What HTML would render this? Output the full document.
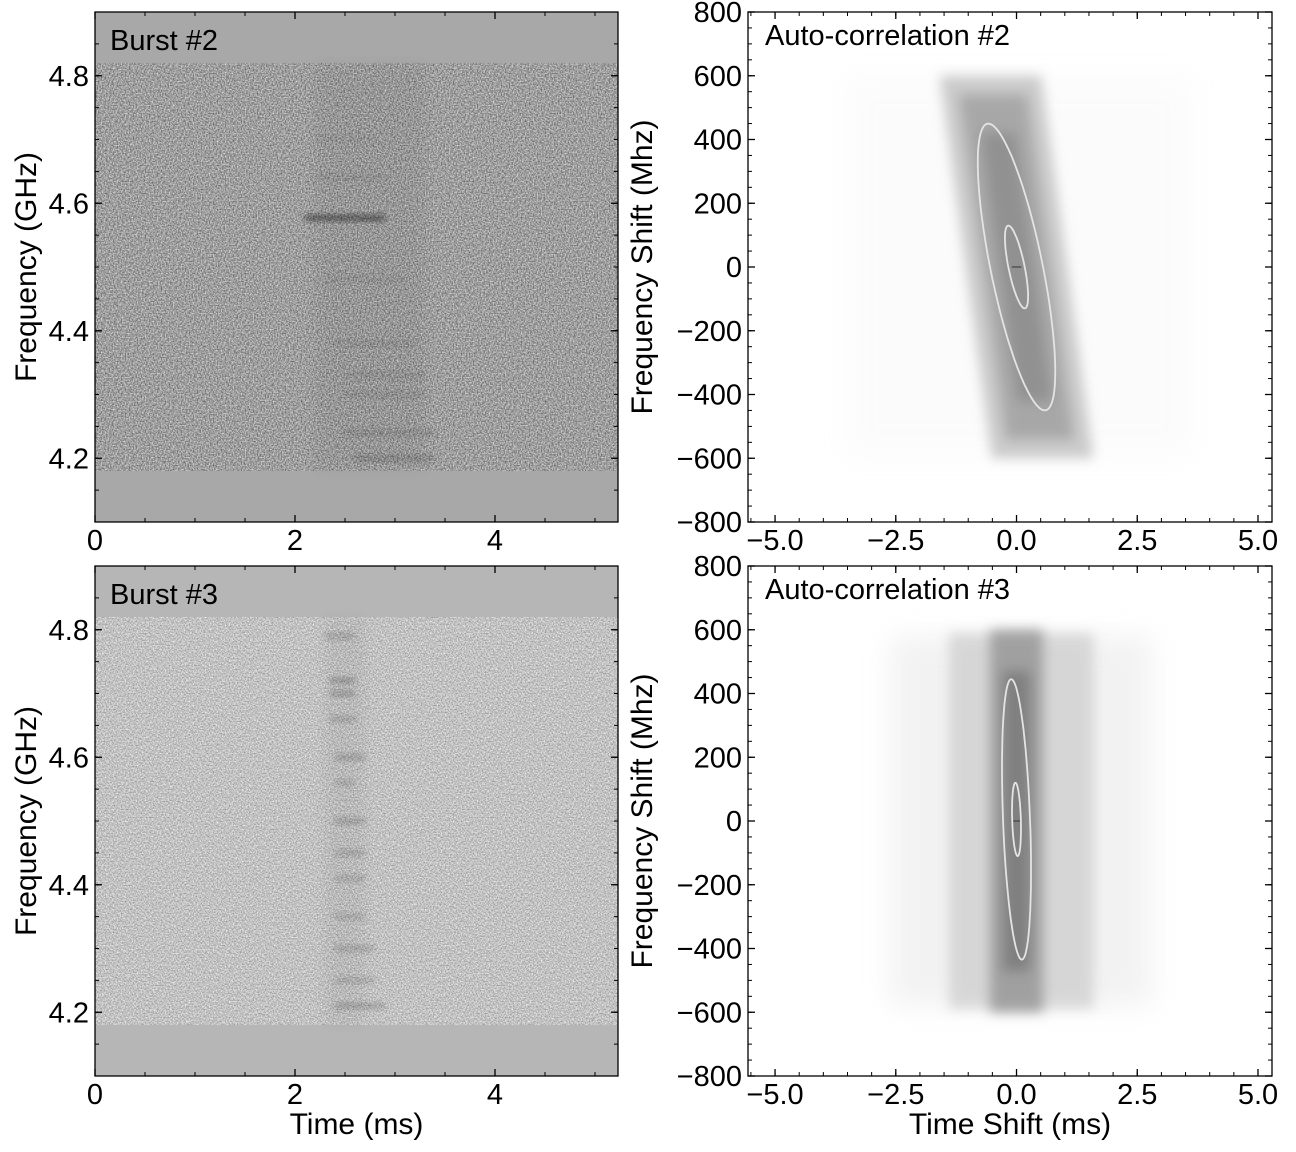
<!DOCTYPE html>
<html><head><meta charset="utf-8">
<style>
html,body{margin:0;padding:0;background:#fff;}
svg{display:block;font-family:"Liberation Sans","DejaVu Sans",sans-serif;}
</style></head>
<body>
<svg id="fig" width="1296" height="1152" viewBox="0 0 1296 1152" xmlns="http://www.w3.org/2000/svg">
<defs>
 <filter id="noiseA" x="0" y="0" width="100%" height="100%" color-interpolation-filters="sRGB">
  <feTurbulence type="fractalNoise" baseFrequency="0.75" numOctaves="1" seed="3"/>
  <feColorMatrix type="matrix" values="0.9 0 0 0 0.17  0.9 0 0 0 0.17  0.9 0 0 0 0.17  0 0 0 0 1"/>
 </filter>
 <filter id="noiseB" x="0" y="0" width="100%" height="100%" color-interpolation-filters="sRGB">
  <feTurbulence type="fractalNoise" baseFrequency="0.75" numOctaves="1" seed="7"/>
  <feColorMatrix type="matrix" values="0.7 0 0 0 0.41  0.7 0 0 0 0.41  0.7 0 0 0 0.41  0 0 0 0 1"/>
 </filter>
 <filter id="blur6" x="-50%" y="-50%" width="200%" height="200%"><feGaussianBlur stdDeviation="6"/></filter>
 <filter id="blur3" x="-50%" y="-50%" width="200%" height="200%"><feGaussianBlur stdDeviation="3"/></filter>
 <filter id="blur12" x="-50%" y="-50%" width="200%" height="200%"><feGaussianBlur stdDeviation="14"/></filter>
</defs>
<g id="root"></g>
</svg>
<script>
// ---- data ----
const freqTicks = [4.2, 4.4, 4.6, 4.8];
const timeTicks = [0, 2, 4];
const shiftTicks = [-800, -600, -400, -200, 0, 200, 400, 600, 800];
const lagTicks = [-5.0, -2.5, 0.0, 2.5, 5.0];
const panelTitles = ["Burst #2", "Burst #3", "Auto-correlation #2", "Auto-correlation #3"];
// burst streaks: [time start, time end, freq, darkness]
const burst2Streaks = [[2.1,2.9,4.577,0.9],[2.2,2.9,4.64,0.12],[2.3,3.1,4.48,0.12],[2.4,3.2,4.38,0.15],[2.5,3.3,4.33,0.15],[2.5,3.3,4.30,0.15],[2.5,3.4,4.24,0.2],[2.6,3.4,4.20,0.3],[2.2,2.8,4.70,0.08]];
const burst2Band = [2.2, 3.3];
const burst3Streaks = [[2.3,2.6,4.79,0.3],[2.35,2.6,4.72,0.45],[2.35,2.6,4.70,0.4],[2.35,2.6,4.66,0.3],[2.4,2.7,4.60,0.35],[2.4,2.6,4.56,0.25],[2.4,2.7,4.50,0.35],[2.4,2.7,4.45,0.3],[2.4,2.7,4.41,0.25],[2.4,2.7,4.35,0.25],[2.4,2.8,4.30,0.3],[2.4,2.8,4.25,0.25],[2.4,2.9,4.21,0.35]];
const burst3Band = [2.3, 2.7];
// autocorr ellipses: [cx ms, cy MHz, half-width ms, half-height MHz, shear ms per MHz]
const acf2Ellipses = [[0,0,0.55,450,-0.0013],[0,0,0.17,130,-0.0013]];
const acf3Ellipses = [[0,5,0.28,440,-0.00025],[0,5,0.09,115,-0.0002]];
// cloud layers: [x center ms, half width ms, y half MHz, shear, grey, opacity]
const acf2Cloud = [[0.05,3.6,600,0,"#ccc",0.07],[0.0,1.05,600,-0.0009,"#aaa",0.6],[0.0,0.7,540,-0.0009,"#8c8c8c",0.55],[0.0,0.35,420,-0.0009,"#777",0.45]];
const acf3Cloud = [[0.1,2.7,580,0,"#ccc",0.25],[0.1,1.5,590,0,"#bbb",0.5],[0.0,0.55,600,0,"#8a8a8a",0.7],[0.0,0.28,470,0,"#666",0.55]];

const NS="http://www.w3.org/2000/svg";
const root=document.getElementById('root');
function mk(tag,attrs,parent){const e=document.createElementNS(NS,tag);for(const k in attrs)e.setAttribute(k,attrs[k]);(parent||root).appendChild(e);return e;}

function axes(p){
  const sx=v=>p.x0+(v-p.xmin)/(p.xmax-p.xmin)*(p.x1-p.x0);
  const sy=v=>p.y1-(v-p.ymin)/(p.ymax-p.ymin)*(p.y1-p.y0);
  return {sx,sy};
}
function frame(p,xt,yt,xminor,yminor,xfmt,yfmt,name,xlab,ylab){
  const {sx,sy}=axes(p);
  const g=mk('g',{});
  
  
  mk('rect',{x:p.x0,y:p.y0,width:p.x1-p.x0,height:p.y1-p.y0,fill:'none',stroke:'#000','stroke-width':1.3},g);
  xt.forEach(v=>{const x=sx(v);
    mk('line',{x1:x,x2:x,y1:p.y1,y2:p.y1-7,stroke:'#000','stroke-width':1.3},g);
    mk('line',{x1:x,x2:x,y1:p.y0,y2:p.y0+7,stroke:'#000','stroke-width':1.3},g);
    const t=mk('text',{x:x,y:p.y1+28,'font-size':29,'text-anchor':'middle'},g);t.textContent=xfmt(v);
    
    
  });
  for(let v=Math.ceil(p.xmin/xminor)*xminor;v<=p.xmax;v+=xminor){const x=sx(v);
    mk('line',{x1:x,x2:x,y1:p.y1,y2:p.y1-4,stroke:'#000'},g);mk('line',{x1:x,x2:x,y1:p.y0,y2:p.y0+4,stroke:'#000'},g);}
  yt.forEach(v=>{const y=sy(v);
    mk('line',{x1:p.x0,x2:p.x0+7,y1:y,y2:y,stroke:'#000','stroke-width':1.3},g);
    mk('line',{x1:p.x1,x2:p.x1-7,y1:y,y2:y,stroke:'#000','stroke-width':1.3},g);
    const t=mk('text',{x:p.x0-6,y:y+10,'font-size':29,'text-anchor':'end'},g);t.textContent=yfmt(v);
    
    
  });
  for(let v=Math.ceil(p.ymin/yminor)*yminor;v<=p.ymax+1e-9;v+=yminor){const y=sy(v);
    mk('line',{x1:p.x0,x2:p.x0+4,y1:y,y2:y,stroke:'#000'},g);mk('line',{x1:p.x1,x2:p.x1-4,y1:y,y2:y,stroke:'#000'},g);}
  if(xlab){const t=mk('text',{x:(p.x0+p.x1)/2,y:p.y1+58,'font-size':30,'text-anchor':'middle'},g);t.textContent=xlab;
    }
  if(ylab){const t=mk('text',{x:0,y:0,'font-size':30,'text-anchor':'middle',transform:`translate(${p.ylx},${(p.y0+p.y1)/2}) rotate(-90)`},g);t.textContent=ylab;
    }
}
const m=v=>v<0?'\u2212'+String(v).replace('-',''):String(v);

function burst(p,filt,bandCol,streaks,bandRange,title,idx){
  const {sx,sy}=axes(p);
  const g=mk('g',{});
  
  
  mk('rect',{x:p.x0,y:p.y0,width:p.x1-p.x0,height:p.y1-p.y0,fill:bandCol},g);
  mk('rect',{x:p.x0,y:sy(4.82),width:p.x1-p.x0,height:sy(4.18)-sy(4.82),filter:`url(#${filt})`},g);
  const b=mk('rect',{x:sx(bandRange[0]),y:sy(4.82),width:sx(bandRange[1])-sx(bandRange[0]),height:sy(4.18)-sy(4.82),fill:'#000',opacity:0.04,filter:'url(#blur6)'},g);
  
  streaks.forEach(s=>{const r=mk('rect',{x:sx(s[0]),y:sy(s[2])-3,width:sx(s[1])-sx(s[0]),height:6,fill:'#000',opacity:s[3]*0.5,filter:'url(#blur3)'},g);
    });
  const t=mk('text',{x:p.x0+15,y:p.y0+38,'font-size':29},g);t.textContent=title;
  
}
function acf(p,cloud,ells,title,idx){
  const {sx,sy}=axes(p);
  const g=mk('g',{});
  
  
  cloud.forEach((c,i)=>{
    const [cx,hw,hy,sh,col,op]=c;
    const pts=[[cx-hw+sh*hy,hy],[cx+hw+sh*hy,hy],[cx+hw-sh*hy,-hy],[cx-hw-sh*hy,-hy]].map(q=>sx(q[0])+','+sy(q[1])).join(' ');
    const pg=mk('polygon',{points:pts,fill:col,opacity:op,filter:i===0?'url(#blur12)':'url(#blur6)'},g);
    
  });
  mk('line',{x1:sx(-0.1),x2:sx(0.1),y1:sy(0),y2:sy(0),stroke:'#444','stroke-width':2,opacity:0.6},g);
  ells.forEach(e=>{
    const [cx,cy,a,b,sh]=e;let d='';
    for(let k=0;k<=72;k++){const th=k/72*2*Math.PI;const yy=cy+b*Math.sin(th);const xx=cx+a*Math.cos(th)+sh*(yy-cy);d+=(k?'L':'M')+sx(xx).toFixed(1)+' '+sy(yy).toFixed(1);}
    const pa=mk('path',{d:d,fill:'none',stroke:'#e4e4e4','stroke-width':1.8},g);
    
  });
  const t=mk('text',{x:p.x0+17,y:p.y0+33,'font-size':29},g);t.textContent=title;
  
}
const L1={x0:95,x1:618,y0:12,y1:522,xmin:0,xmax:5.23,ymin:4.1,ymax:4.9,ylx:36};
const L2={x0:95,x1:618,y0:566,y1:1076,xmin:0,xmax:5.23,ymin:4.1,ymax:4.9,ylx:36};
const R1={x0:748,x1:1272,y0:12,y1:522,xmin:-5.56,xmax:5.29,ymin:-800,ymax:800,ylx:652};
const R2={x0:748,x1:1272,y0:566,y1:1076,xmin:-5.56,xmax:5.29,ymin:-800,ymax:800,ylx:652};
burst(L1,'noiseA','#a8a8a8',burst2Streaks,burst2Band,panelTitles[0],2);
burst(L2,'noiseB','#b6b6b6',burst3Streaks,burst3Band,panelTitles[1],3);
acf(R1,acf2Cloud,acf2Ellipses,panelTitles[2],2);
acf(R2,acf3Cloud,acf3Ellipses,panelTitles[3],3);
frame(L1,timeTicks,freqTicks,0.5,0.05,v=>String(v),v=>v.toFixed(1),'burst-2',null,'Frequency (GHz)');
frame(L2,timeTicks,freqTicks,0.5,0.05,v=>String(v),v=>v.toFixed(1),'burst-3','Time (ms)','Frequency (GHz)');
frame(R1,lagTicks,shiftTicks,0.5,50,v=>m(v.toFixed(1)),v=>m(String(v)),'acf-2',null,'Frequency Shift (Mhz)');
frame(R2,lagTicks,shiftTicks,0.5,50,v=>m(v.toFixed(1)),v=>m(String(v)),'acf-3','Time Shift (ms)','Frequency Shift (Mhz)');
</script>
</body></html>
